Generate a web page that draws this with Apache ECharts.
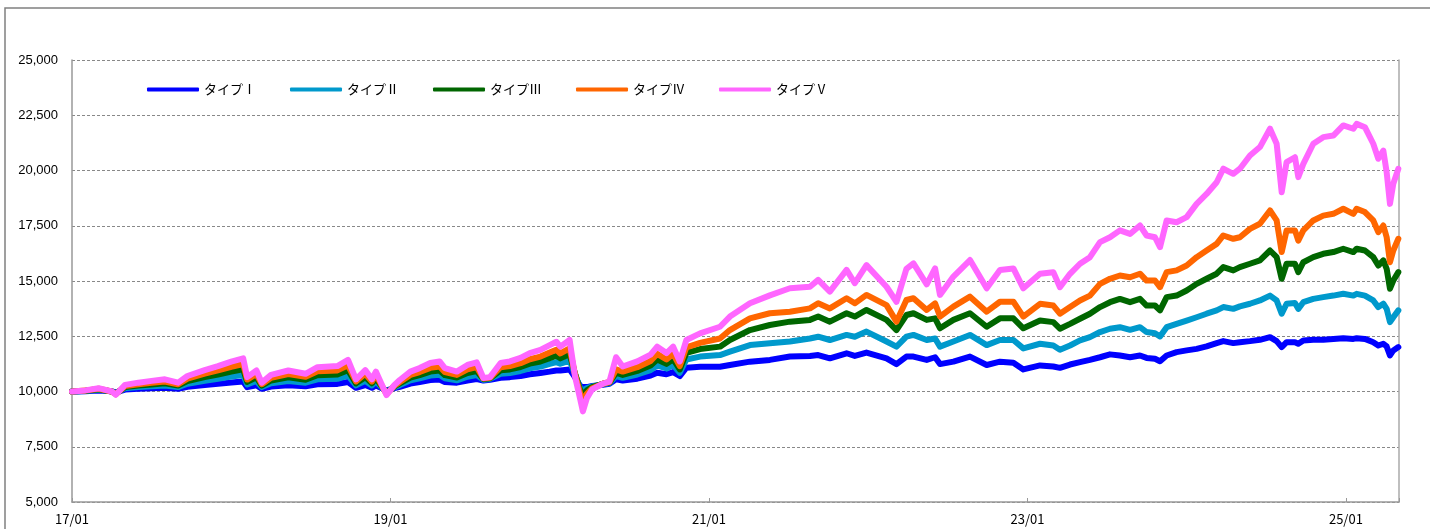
<!DOCTYPE html>
<html><head><meta charset="utf-8">
<script src="https://cdn.jsdelivr.net/npm/echarts@6/dist/echarts.min.js"></script>
<style>html,body{margin:0;padding:0;background:#fff}#c{width:1430px;height:529px}</style>
</head><body><div id="c"></div>
<script>
// x positions: months since 2017/01
const months = [0,1,2,3,3.3,4,5,6,7,8,8.7,10,11,12,12.9,13.2,13.9,14.3,15,16.3,17.6,18.5,20,20.8,21.4,22.1,22.6,22.9,23.7,24.3,
24.7,25.5,26.2,27.0,27.7,28.1,29.0,29.8,30.5,31.0,31.5,32.3,33.0,33.8,34.5,35.3,36.0,36.5,36.8,37.5,37.9,38.3,38.5,38.8,39.2,40.0,40.5,41.0,41.5,42.6,43.6,44.1,44.8,45.3,45.8,46.3,
47.33,48.83,49.58,51.09,52.59,54.10,55.61,56.23,57.11,58.37,58.99,59.87,61.38,62.13,62.88,63.41,64.41,65.04,65.41,66.42,67.67,68.93,69.93,70.94,71.69,
72.95,73.95,74.45,75.21,75.96,76.71,77.47,78.22,78.97,79.73,80.48,80.98,81.61,81.99,82.49,83.24,84.0,84.75,85.5,86.26,86.76,87.51,88.01,88.77,89.52,90.28,90.78,91.16,91.53,92.16,92.41,92.79,93.54,94.29,95.05,95.8,96.56,96.81,97.43,98.06,98.44,98.82,99.07,99.32,99.57,99.95];

const type5 = [10000,10050,10150,10000,9850,10300,10400,10480,10550,10400,10700,10970,11150,11350,11500,10650,10950,10400,10750,10950,10800,11100,11150,11430,10550,10970,10550,10900,9840,10300,
10520,10900,11060,11290,11360,11060,10900,11200,11320,10610,10650,11290,11360,11520,11740,11880,12100,12250,12030,12330,10700,9650,9100,9700,10100,10350,10450,11550,11130,11360,11670,12030,11740,12030,11360,12330,
12630,12930,13390,13990,14350,14670,14740,15050,14520,15500,14900,15720,14740,14060,15550,15800,14850,15570,14370,15200,15950,14670,15500,15570,14670,
15325,15400,14720,15325,15780,16080,16760,16980,17290,17130,17510,17060,16980,16530,17740,17660,17890,18490,18940,19470,20080,19850,20080,20680,21060,21890,21210,19020,20380,20600,19700,20300,21210,21510,21580,22040,21890,22110,21960,21210,20530,20900,19920,18490,19400,20080];

const type4 = [10000,10040,10125,10000,9875,10250,10330,10400,10455,10330,10580,10805,10955,11120,11245,10540,10790,10330,10620,10790,10665,10915,10955,11185,10455,10805,10455,10750,9880,10260,
10430,10750,10880,11070,11130,10880,10750,11000,11100,10590,10620,11100,11150,11280,11460,11580,11760,11890,11720,11950,10800,9900,9550,9900,10150,10350,10430,11000,10900,11100,11380,11700,11450,11700,11150,12000,
12200,12400,12780,13310,13540,13610,13760,13990,13760,14220,13990,14370,13910,13160,14140,14220,13690,13990,13390,13840,14290,13610,14060,14060,13390,
13970,13890,13520,13820,14120,14340,14870,15100,15250,15170,15330,15020,15020,14720,15400,15480,15700,16080,16380,16680,17060,16910,16980,17360,17590,18190,17740,16310,17290,17290,16830,17290,17740,17960,18040,18270,18040,18270,18120,17740,17210,17510,16980,15850,16380,16910];

const type3 = [10000,10035,10100,10000,9900,10200,10270,10320,10370,10270,10470,10650,10770,10905,11005,10435,10640,10270,10500,10640,10535,10735,10770,10960,10370,10650,10370,10600,9930,10230,
10365,10630,10740,10900,10950,10740,10630,10840,10925,10560,10600,10960,11000,11110,11260,11360,11510,11620,11500,11690,10820,10050,9850,10050,10200,10350,10400,10850,10750,10930,11180,11450,11250,11460,11000,11750,
11920,12030,12330,12780,13010,13160,13240,13390,13160,13540,13390,13690,13240,12780,13460,13540,13240,13310,12860,13240,13540,12930,13310,13310,12860,
13210,13140,12840,13060,13290,13520,13820,14040,14190,14040,14190,13890,13890,13670,14270,14340,14570,14870,15100,15330,15630,15480,15630,15780,15930,16380,16080,15100,15780,15780,15400,15850,16080,16230,16310,16460,16310,16460,16380,16080,15700,15930,15550,14650,15020,15400];

const type2 = [10000,10025,10075,10005,9930,10150,10200,10240,10275,10200,10350,10485,10575,10675,10750,10325,10475,10200,10375,10475,10400,10550,10575,10715,10275,10485,10275,10450,9990,10200,
10290,10505,10595,10720,10760,10595,10505,10670,10740,10530,10570,10800,10840,10930,11050,11130,11250,11330,11260,11400,10800,10150,10050,10150,10230,10330,10380,10700,10620,10770,10970,11180,11040,11200,10850,11450,
11580,11650,11800,12100,12180,12260,12400,12480,12330,12560,12480,12710,12260,12030,12480,12560,12330,12400,12030,12260,12560,12100,12330,12330,11950,
12160,12080,11890,12080,12310,12460,12690,12840,12910,12790,12910,12690,12640,12490,12910,13060,13210,13360,13520,13670,13820,13740,13850,13970,14120,14340,14120,13520,13970,14000,13740,14040,14190,14270,14340,14420,14340,14420,14340,14120,13820,13970,13740,13140,13360,13670];

const type1 = [10000,10015,10045,10010,9960,10090,10120,10145,10165,10120,10210,10290,10345,10405,10450,10195,10285,10120,10225,10285,10240,10330,10345,10430,10165,10290,10165,10270,10050,10150,
10210,10360,10425,10515,10545,10425,10400,10500,10560,10500,10530,10620,10650,10700,10780,10840,10900,10950,10950,11000,10650,10250,10200,10200,10250,10300,10350,10550,10500,10580,10720,10850,10780,10880,10700,11080,
11120,11120,11200,11350,11430,11580,11610,11650,11500,11730,11610,11760,11500,11240,11580,11580,11430,11550,11240,11350,11580,11200,11350,11300,11000,
11180,11130,11070,11220,11330,11430,11550,11680,11630,11550,11630,11520,11480,11370,11630,11780,11860,11930,12040,12190,12280,12190,12230,12280,12340,12460,12280,12010,12230,12230,12160,12310,12340,12340,12380,12410,12380,12410,12380,12230,12080,12160,12040,11630,11860,12010];

const seriesNames = ['タイプⅠ','タイプⅡ','タイプⅢ','タイプⅣ','タイプⅤ'];
const seriesColors = ['#0000FF','#0099CC','#006600','#FF6600','#FF66FF'];
const xTickLabels = ['17/01','19/01','21/01','23/01','25/01'];

const allValues = [type1,type2,type3,type4,type5];
const chart = echarts.init(document.getElementById('c'), null, {renderer:'canvas'});
chart.setOption({
  animation:false,
  backgroundColor:'#fff',
  graphic:[{type:'rect',shape:{x:5,y:8,width:1500,height:600},style:{fill:'none',stroke:'#808080',lineWidth:1.5},silent:true}],
  legend: seriesNames.map((n,i)=>({
    left:147+143*i, top:83, padding:0, icon:'roundRect', itemWidth:52, itemHeight:4, itemGap:0,
    data:[n], selectedMode:false,
    textStyle:{fontFamily:'Noto Sans CJK JP', fontSize:13, color:'#000'}
  })),
  grid:{left:72,right:31,top:60,bottom:27,containLabel:false},
  xAxis:{
    type:'value',min:0,max:100,interval:24,
    axisLine:{show:true,lineStyle:{color:'#999',width:1.5}},
    axisTick:{show:true,inside:true,length:4,lineStyle:{color:'#999'}},
    splitLine:{show:false},
    axisLabel:{margin:11,fontFamily:'Noto Sans CJK JP',fontSize:13,color:'#000',
      formatter:function(v){ if(v%24!==0) return ''; const i=v/24; return xTickLabels[i]||''; }}
  },
  yAxis:[{
    type:'value',min:5000,max:25000,interval:2500,
    axisLine:{show:true,lineStyle:{color:'#999',width:1.5}},
    axisTick:{show:false},
    splitLine:{show:true,lineStyle:{color:'#888',type:[3,2],width:1}},
    axisLabel:{margin:14,fontFamily:'Liberation Sans',fontSize:13,color:'#000',
      formatter:function(v){return v.toLocaleString('en-US');}}
  },{
    type:'value',min:5000,max:25000,interval:2500,position:'right',
    axisLine:{show:true,lineStyle:{color:'#aaa',width:1.5}},
    axisTick:{show:false},axisLabel:{show:false},splitLine:{show:false}
  }],
  series: seriesNames.map((n,k)=>({
    name:n,type:'line',showSymbol:false,symbol:'none',
    color:seriesColors[k],
    lineStyle:{width:6,color:seriesColors[k],join:'round',cap:'round'},
    data: months.map((m,i)=>[m, allValues[k][i]])
  }))
});
</script></body></html>
